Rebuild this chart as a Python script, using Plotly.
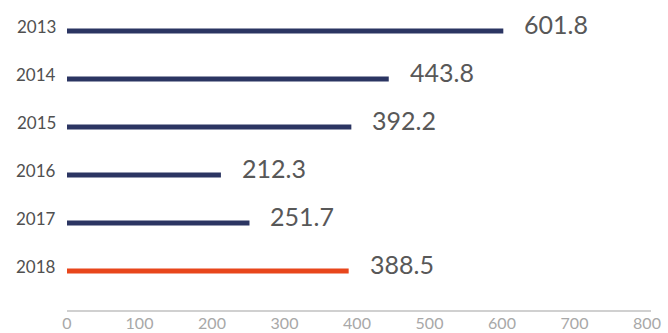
import plotly.graph_objects as go

years = ["2013", "2014", "2015", "2016", "2017", "2018"]
values = [601.8, 443.8, 392.2, 212.3, 251.7, 388.5]
colors = ["#2b3562", "#2b3562", "#2b3562", "#2b3562", "#2b3562", "#e8461c"]
tick_vals = [0, 100, 200, 300, 400, 500, 600, 700, 800]

fig = go.Figure()
fig.add_trace(go.Bar(
    x=values, y=years, orientation="h",
    marker=dict(color=colors, line=dict(width=0)),
    width=0.1, hoverinfo="skip",
))

annotations = []
for i, (yr, v) in enumerate(zip(years, values)):
    annotations.append(dict(
        x=v, y=i, xref="x", yref="y", text=f"{v:.1f}", showarrow=False,
        xanchor="left", yanchor="middle", xshift=19, yshift=7,
        font=dict(family="Lato", size=25, color="#585858"),
    ))
    annotations.append(dict(
        x=0, y=i, xref="paper", yref="y", text=yr, showarrow=False,
        xanchor="right", yanchor="middle", xshift=-9, yshift=5,
        font=dict(family="Lato", size=17, color="#505050"),
    ))

fig.update_layout(
    width=668, height=333,
    margin=dict(l=67, r=17, t=7, b=23),
    paper_bgcolor="white", plot_bgcolor="white",
    showlegend=False,
    annotations=annotations,
    xaxis=dict(
        range=[0, 805.5], tickvals=tick_vals, showgrid=False, zeroline=False,
        showline=True, linecolor="#d0d0d0", linewidth=1.5, ticks="",
        automargin=False, ticklabelstandoff=-2,
        tickfont=dict(family="Lato", size=16, color="#a8a8a8"),
    ),
    yaxis=dict(
        type="category", categoryorder="array", categoryarray=years,
        range=[5.8125, -0.5], showticklabels=False, showgrid=False,
        zeroline=False, showline=False, ticks="", automargin=False,
    ),
)

fig.write_html("out.html")
